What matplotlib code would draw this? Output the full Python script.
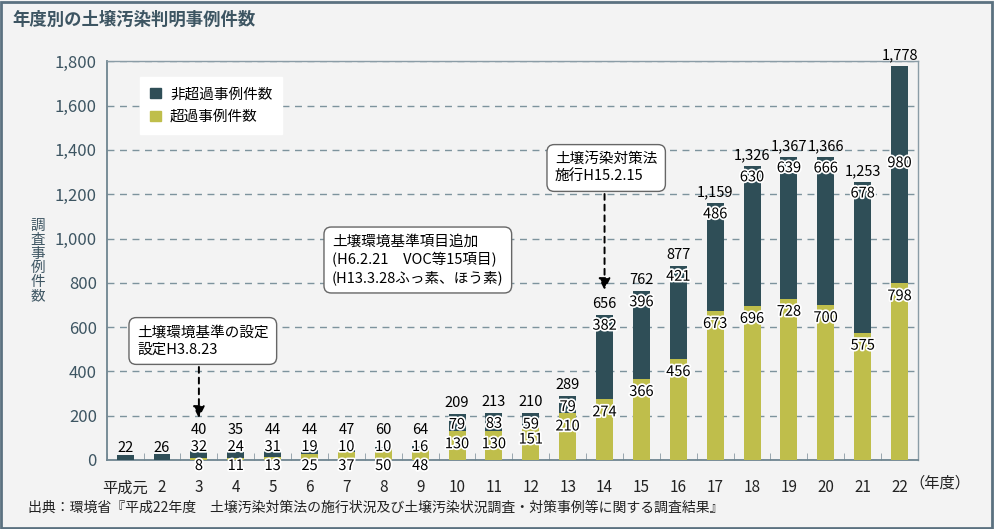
import matplotlib
matplotlib.use("Agg")
import matplotlib.pyplot as plt
import matplotlib.patheffects as pe
from matplotlib.patches import Rectangle, Patch
import numpy as np

plt.rcParams['font.family'] = ['Noto Sans CJK JP', 'DejaVu Sans']

# data
years = ['平成元', '2', '3', '4', '5', '6', '7', '8', '9', '10', '11',
         '12', '13', '14', '15', '16', '17', '18', '19', '20', '21', '22']
exceed = [0, 0, 8, 11, 13, 25, 37, 50, 48, 130, 130,
          151, 210, 274, 366, 456, 673, 696, 728, 700, 575, 798]
non_exceed = [22, 26, 32, 24, 31, 19, 10, 10, 16, 79, 83,
              59, 79, 382, 396, 421, 486, 630, 639, 666, 678, 980]

DARK = '#2f4e57'
OLIVE = '#bfbe4b'
BG = '#f3f3f3'
SLATE = '#3d5562'

W, H = 994, 529
AX_L, AX_R, AX_T, AX_B = 106.7, 918, 61.3, 460
YMAX = 1800
PX_PER_UNIT = (AX_B - AX_T) / YMAX


def fx(x):
    return x / W


def fy(y):
    return 1 - y / H


fig = plt.figure(figsize=(W / 100, H / 100), dpi=100, facecolor=BG)
ax = fig.add_axes([fx(AX_L), fy(AX_B), fx(AX_R) - fx(AX_L), fy(AX_T) - fy(AX_B)])
ax.set_facecolor(BG)

# border of the whole panel
fig.patches.append(Rectangle((0.001, 0.002), 0.997, 0.995, transform=fig.transFigure,
                             fill=False, edgecolor='#5b7180', lw=2))

x = np.arange(len(years))
exceed = np.array(exceed)
non_exceed = np.array(non_exceed)
total = exceed + non_exceed

ax.bar(x, exceed, width=0.46, color=OLIVE, zorder=3)
ax.bar(x, non_exceed, width=0.46, bottom=exceed, color=DARK, zorder=3)

ax.set_xlim(-0.5, len(years) - 0.5)
ax.set_ylim(0, YMAX)
ax.set_yticks(np.arange(0, YMAX + 1, 200))
ax.set_yticklabels([f'{v:,}' for v in range(0, YMAX + 1, 200)], fontsize=12, color=SLATE)
ax.set_xticks(x)
ax.set_xticklabels(years, fontsize=11, color='#222222')
ax.set_xticks(np.arange(-0.5, len(years)), minor=True)
ax.tick_params(axis='y', length=0, pad=7)
ax.tick_params(axis='x', which='major', length=0, pad=14)
ax.tick_params(axis='x', which='minor', direction='in', length=5, color='#8a9aa3')
ax.grid(axis='y', linestyle=(0, (5, 4)), color='#7d939d', lw=1, zorder=1)
for s in ['left', 'bottom']:
    ax.spines[s].set_color('#6f8590')
    ax.spines[s].set_linewidth(1.3)
for s in ['top', 'right']:
    ax.spines[s].set_color('#8a9ca6')
    ax.spines[s].set_linewidth(1)

# value labels
halo = [pe.withStroke(linewidth=2.5, foreground='white')]
dark_shift = {21: -97}
for i in x:
    t, e, n = total[i], exceed[i], non_exceed[i]
    kw = dict(ha='center', va='center', textcoords='offset pixels', fontsize=10.5, zorder=5)
    if t < 100:
        if e == 0:
            ax.annotate(f'{t:,}', (i, 0), xytext=(0, 12), **kw)
        else:
            ax.annotate(f'{t:,}', (i, 0), xytext=(0, 30), **kw)
            ax.annotate(f'{n}', (i, 0), xytext=(0, 13), path_effects=halo, **kw)
            ax.annotate(f'{e}', (i, 0), xytext=(0, -6), path_effects=halo, **kw)
    else:
        d_off = dark_shift.get(i, -11)
        ax.annotate(f'{t:,}', (i, t), xytext=(0, 11), **kw)
        ax.annotate(f'{n}', (i, t), xytext=(0, d_off), path_effects=halo, **kw)
        # keep the olive label clear of the dark one on short dark segments
        gap = n * PX_PER_UNIT - d_off
        e_off = min(-13, -(19 - gap))
        ax.annotate(f'{e}', (i, e), xytext=(0, e_off), path_effects=halo, **kw)

# legend
handles = [Patch(color=DARK, label='非超過事例件数'), Patch(color=OLIVE, label='超過事例件数')]
leg = ax.legend(handles=handles, loc='upper left',
                bbox_to_anchor=((140 - AX_L) / (AX_R - AX_L), 1 - (77 - AX_T) / (AX_B - AX_T)),
                frameon=True, fancybox=False, framealpha=1, edgecolor='white', fontsize=10.5,
                handlelength=0.75, handleheight=0.75, handletextpad=0.6, labelspacing=0.6,
                borderpad=0.7, borderaxespad=0)
leg.get_frame().set_facecolor('white')
leg.set_zorder(6)

# callouts
box = dict(boxstyle='round,pad=0.55,rounding_size=0.5', facecolor='white', edgecolor='#666666', lw=1)
fig.text(fx(137), fy(341), '土壌環境基準の設定\n設定H3.8.23', fontsize=10.5, va='center', ha='left',
         bbox=box, linespacing=1.25, zorder=7)
fig.text(fx(332), fy(260), '土壌環境基準項目追加\n(H6.2.21　VOC等15項目)\n(H13.3.28ふっ素、ほう素)',
         fontsize=10.5, va='center', ha='left', bbox=box, linespacing=1.25, zorder=7)
fig.text(fx(555), fy(168), '土壌汚染対策法\n施行H15.2.15', fontsize=10.5, va='center', ha='left',
         bbox=box, linespacing=1.25, zorder=7)

arrow = dict(arrowstyle='-|>,head_length=0.7,head_width=0.35', color='black', lw=1.4,
             linestyle=(0, (3, 2.5)), shrinkA=0, shrinkB=0)
ax.annotate('', xy=(2, fy(418)), xytext=(2, fy(367)), xycoords=('data', 'figure fraction'),
            textcoords=('data', 'figure fraction'), arrowprops=arrow, annotation_clip=False)
ax.annotate('', xy=(13, fy(290)), xytext=(13, fy(194)), xycoords=('data', 'figure fraction'),
            textcoords=('data', 'figure fraction'), arrowprops=arrow, annotation_clip=False)

# titles and notes
fig.text(fx(12), fy(20), '年度別の土壌汚染判明事例件数', fontsize=12.5, fontweight='bold',
         color=SLATE, va='center', ha='left')
fig.text(fx(38), fy(261), '\n'.join('調査事例件数'), fontsize=10.5, color=SLATE,
         va='center', ha='center', linespacing=1.02)
fig.text(fx(940), fy(483), '（年度）', fontsize=11, color='#222222', va='center', ha='center')
fig.text(fx(28), fy(508), '出典：環境省『平成22年度　土壌汚染対策法の施行状況及び土壌汚染状況調査・対策事例等に関する調査結果』',
         fontsize=10, color='#222222', va='center', ha='left')

fig.savefig('out.png', dpi=100, facecolor=BG)
